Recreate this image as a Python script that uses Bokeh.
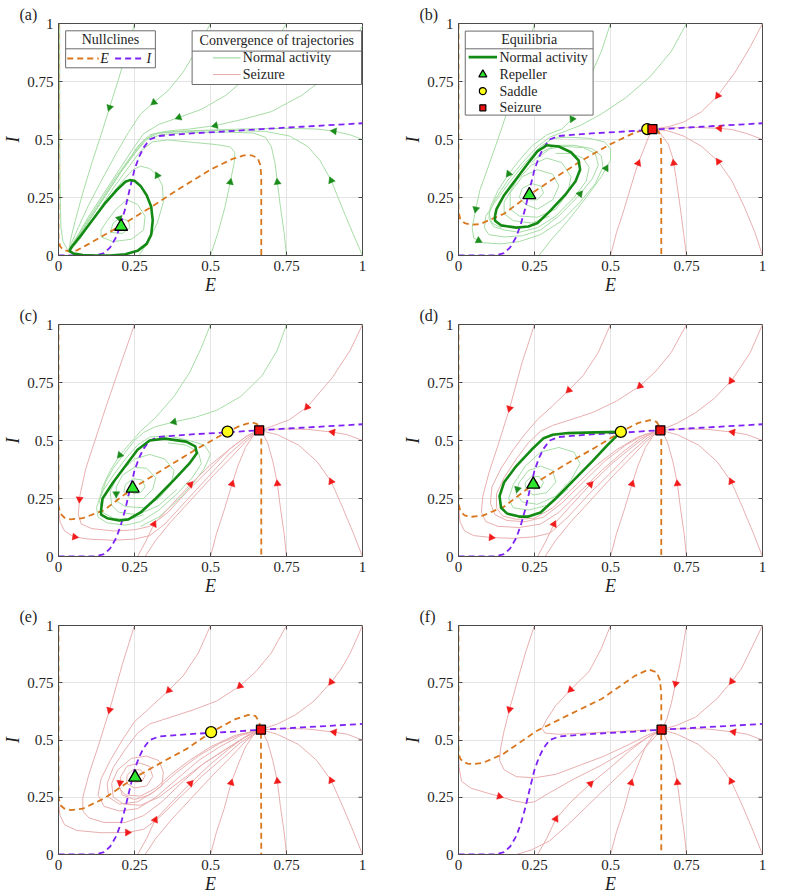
import math
from bokeh.plotting import figure
from bokeh.layouts import column, row
from bokeh.models import FixedTicker, Range1d, Title
from bokeh.embed import file_html
from bokeh.resources import INLINE
from bokeh.core.properties import value

# ---------------------------------------------------------------- data
TICKS = [0, 0.25, 0.5, 0.75, 1]
TICK_LABELS = ["0", "0.25", "0.5", "0.75", "1"]
PANEL_TAGS = ["(a)", "(b)", "(c)", "(d)", "(e)", "(f)"]

# I-nullcline (same in every panel)
I_NULL_E = [0, 0.12, 0.15, 0.17, 0.19, 0.205, 0.22, 0.235, 0.25, 0.265, 0.28, 0.30, 0.33, 0.42, 0.58, 0.667, 0.8, 1.0]
I_NULL_I = [0, 0, 0.01, 0.035, 0.08, 0.135, 0.205, 0.29, 0.37, 0.425, 0.465, 0.5, 0.515, 0.525, 0.537, 0.545, 0.555, 0.57]

# E-nullclines, one per panel
E_NULL_A_E = [0, 0, 0.005, 0.015, 0.035, 0.06, 0.1, 0.2, 0.3, 0.4, 0.5, 0.57, 0.61, 0.635, 0.655, 0.664, 0.667, 0.667]
E_NULL_A_I = [1, 0.07, 0.04, 0.025, 0.018, 0.022, 0.05, 0.125, 0.205, 0.29, 0.37, 0.415, 0.432, 0.432, 0.42, 0.39, 0.34, 0]
E_NULL_B_E = [0, 0, 0.006, 0.02, 0.04, 0.07, 0.15, 0.233, 0.3, 0.4, 0.5, 0.58, 0.621, 0.645, 0.658, 0.665, 0.667, 0.667]
E_NULL_B_I = [1, 0.19, 0.155, 0.14, 0.133, 0.135, 0.18, 0.261, 0.32, 0.405, 0.48, 0.53, 0.545, 0.548, 0.535, 0.51, 0.47, 0]
E_NULL_C_E = [0, 0, 0.006, 0.02, 0.04, 0.08, 0.15, 0.244, 0.35, 0.45, 0.556, 0.6, 0.635, 0.652, 0.663, 0.667, 0.667]
E_NULL_C_I = [1, 0.22, 0.185, 0.167, 0.16, 0.165, 0.2, 0.294, 0.38, 0.46, 0.538, 0.565, 0.578, 0.572, 0.55, 0.51, 0]
E_NULL_D_E = [0, 0, 0.006, 0.02, 0.04, 0.08, 0.15, 0.246, 0.35, 0.45, 0.534, 0.59, 0.63, 0.652, 0.663, 0.667, 0.667]
E_NULL_D_I = [1, 0.23, 0.195, 0.177, 0.171, 0.176, 0.215, 0.311, 0.395, 0.47, 0.537, 0.575, 0.588, 0.58, 0.555, 0.515, 0]
E_NULL_E_E = [0, 0, 0.006, 0.02, 0.04, 0.08, 0.15, 0.252, 0.35, 0.42, 0.502, 0.58, 0.625, 0.648, 0.66, 0.666, 0.667]
E_NULL_E_I = [1, 0.25, 0.215, 0.2, 0.194, 0.2, 0.245, 0.337, 0.41, 0.46, 0.534, 0.59, 0.61, 0.605, 0.58, 0.54, 0]
E_NULL_F_E = [0, 0, 0.005, 0.015, 0.03, 0.048, 0.08, 0.146, 0.255, 0.363, 0.472, 0.58, 0.625, 0.652, 0.663, 0.667, 0.667]
E_NULL_F_I = [1, 0.45, 0.42, 0.405, 0.397, 0.395, 0.4, 0.438, 0.538, 0.61, 0.68, 0.78, 0.808, 0.796, 0.76, 0.7, 0]

# normal-activity cycles (panels a-d)
CYCLE_A_E = [0.035, 0.05, 0.08, 0.12, 0.17, 0.22, 0.26, 0.29, 0.305, 0.31, 0.305, 0.29, 0.27, 0.25, 0.235, 0.22, 0.19, 0.15, 0.11, 0.07, 0.045, 0.035]
CYCLE_A_I = [0.02, 0.008, 0.002, 0.0, 0.0, 0.005, 0.02, 0.05, 0.09, 0.15, 0.21, 0.26, 0.3, 0.322, 0.325, 0.318, 0.28, 0.22, 0.15, 0.08, 0.04, 0.02]
CYCLE_B_E = [0.12, 0.125, 0.15, 0.19, 0.23, 0.26, 0.29, 0.33, 0.37, 0.395, 0.40, 0.385, 0.35, 0.30, 0.26, 0.23, 0.19, 0.14, 0.12, 0.12]
CYCLE_B_I = [0.17, 0.2, 0.26, 0.33, 0.40, 0.45, 0.475, 0.47, 0.445, 0.41, 0.37, 0.32, 0.26, 0.19, 0.14, 0.125, 0.12, 0.13, 0.15, 0.17]
CYCLE_C_E = [0.14, 0.145, 0.18, 0.22, 0.26, 0.3, 0.35, 0.42, 0.45, 0.455, 0.43, 0.38, 0.32, 0.27, 0.23, 0.2, 0.16, 0.14, 0.14]
CYCLE_C_I = [0.2, 0.25, 0.32, 0.39, 0.46, 0.5, 0.508, 0.495, 0.475, 0.445, 0.4, 0.33, 0.25, 0.19, 0.16, 0.155, 0.165, 0.18, 0.2]
CYCLE_D_E = [0.534, 0.45, 0.36, 0.31, 0.28, 0.24, 0.19, 0.15, 0.135, 0.14, 0.16, 0.2, 0.23, 0.27, 0.32, 0.38, 0.44, 0.49, 0.534]
CYCLE_D_I = [0.537, 0.535, 0.532, 0.525, 0.51, 0.46, 0.39, 0.32, 0.26, 0.21, 0.185, 0.172, 0.172, 0.19, 0.25, 0.33, 0.41, 0.48, 0.537]

# equilibria per panel (None where absent)
REPELLER_E = [0.206, 0.233, 0.244, 0.246, 0.252, None]
REPELLER_I = [0.125, 0.261, 0.294, 0.311, 0.337, None]
SADDLE_E = [None, 0.621, 0.556, 0.534, 0.502, None]
SADDLE_I = [None, 0.545, 0.538, 0.537, 0.534, None]
SEIZURE_E = [None, 0.638, 0.66, 0.664, 0.666, 0.668]
SEIZURE_I = [None, 0.545, 0.544, 0.544, 0.545, 0.545]

# trajectories (E, I) that settle on normal activity
GREEN_A = [
    [(0.25, 1.0), (0.225, 0.88), (0.195, 0.75), (0.168, 0.638), (0.14, 0.52), (0.11, 0.4), (0.08, 0.27), (0.055, 0.15), (0.04, 0.07), (0.035, 0.03)],
    [(0.5, 1.0), (0.46, 0.9), (0.41, 0.79), (0.36, 0.71), (0.314, 0.66), (0.27, 0.61), (0.23, 0.53), (0.19, 0.44), (0.14, 0.32), (0.1, 0.22), (0.065, 0.12), (0.045, 0.06), (0.035, 0.03)],
    [(0.75, 1.0), (0.7, 0.89), (0.63, 0.78), (0.55, 0.69), (0.47, 0.63), (0.396, 0.595), (0.33, 0.565), (0.28, 0.525), (0.245, 0.46), (0.2, 0.37), (0.15, 0.27), (0.1, 0.17), (0.065, 0.09), (0.04, 0.035)],
    [(1.0, 0.99), (0.95, 0.88), (0.88, 0.77), (0.8, 0.69), (0.7, 0.62), (0.6, 0.585), (0.516, 0.56), (0.43, 0.545), (0.35, 0.535), (0.3, 0.52), (0.26, 0.47), (0.22, 0.39), (0.17, 0.29), (0.12, 0.19), (0.075, 0.1), (0.045, 0.04)],
    [(1.0, 0.5), (0.96, 0.52), (0.907, 0.536), (0.85, 0.545), (0.75, 0.548), (0.6, 0.545), (0.48, 0.54), (0.38, 0.535), (0.315, 0.525), (0.275, 0.49), (0.235, 0.42), (0.19, 0.34), (0.14, 0.24), (0.09, 0.14), (0.055, 0.07), (0.038, 0.03)],
    [(1.0, 0.0), (0.97, 0.09), (0.935, 0.2), (0.897, 0.323), (0.86, 0.41), (0.82, 0.47), (0.76, 0.515), (0.68, 0.535), (0.55, 0.54), (0.42, 0.535), (0.33, 0.528), (0.285, 0.5), (0.245, 0.43), (0.2, 0.35), (0.15, 0.25), (0.1, 0.15), (0.06, 0.075), (0.038, 0.03)],
    [(0.75, 0.0), (0.742, 0.1), (0.73, 0.21), (0.72, 0.316), (0.712, 0.4), (0.7, 0.47), (0.68, 0.51), (0.64, 0.528), (0.55, 0.532), (0.43, 0.53), (0.34, 0.522), (0.29, 0.5), (0.25, 0.44), (0.205, 0.36), (0.155, 0.26), (0.105, 0.16), (0.065, 0.08), (0.04, 0.032)],
    [(0.5, 0.0), (0.525, 0.1), (0.548, 0.21), (0.565, 0.316), (0.578, 0.4), (0.58, 0.445), (0.565, 0.468), (0.52, 0.478), (0.44, 0.488), (0.36, 0.498), (0.31, 0.49), (0.27, 0.45), (0.23, 0.38), (0.18, 0.29), (0.13, 0.19), (0.085, 0.11), (0.05, 0.05), (0.037, 0.025)],
    [(0.265, 0.0), (0.295, 0.06), (0.325, 0.14), (0.345, 0.23), (0.342, 0.3), (0.325, 0.345), (0.3, 0.375), (0.27, 0.385), (0.245, 0.37), (0.21, 0.32), (0.16, 0.24), (0.11, 0.15), (0.07, 0.07), (0.045, 0.03), (0.04, 0.02)],
    [(0.004, 1.0), (0.004, 0.6), (0.005, 0.3), (0.008, 0.12), (0.015, 0.06), (0.03, 0.025)],
    [(0.14, 0.08), (0.18, 0.06), (0.24, 0.07), (0.28, 0.11), (0.285, 0.17), (0.26, 0.22), (0.225, 0.24), (0.19, 0.2), (0.16, 0.15), (0.14, 0.11), (0.14, 0.08)],
    [(0.17, 0.1), (0.21, 0.095), (0.235, 0.12), (0.23, 0.15), (0.2, 0.16), (0.18, 0.14), (0.17, 0.1)],
]
GREEN_A_ARROWS = [(0, 0.168, 0.638), (1, 0.314, 0.66), (2, 0.396, 0.595), (3, 0.516, 0.56), (4, 0.907, 0.538),
                  (5, 0.897, 0.323), (6, 0.72, 0.316), (7, 0.565, 0.316), (8, 0.325, 0.345), (11, 0.2, 0.16)]

GREEN_B = [
    [(0.25, 1.0), (0.22, 0.86), (0.18, 0.7), (0.14, 0.54), (0.1, 0.39), (0.07, 0.28), (0.057, 0.2), (0.045, 0.12), (0.05, 0.075), (0.08, 0.055), (0.14, 0.05), (0.2, 0.06), (0.27, 0.09), (0.34, 0.15), (0.4, 0.23), (0.45, 0.31), (0.475, 0.38), (0.47, 0.43), (0.44, 0.46), (0.38, 0.475), (0.32, 0.475), (0.28, 0.45), (0.24, 0.4)],
    [(0.5, 1.0), (0.47, 0.88), (0.43, 0.76), (0.4, 0.66), (0.374, 0.588), (0.34, 0.545), (0.29, 0.52), (0.24, 0.47), (0.2, 0.41), (0.165, 0.352), (0.13, 0.28), (0.105, 0.21), (0.1, 0.16), (0.115, 0.125), (0.15, 0.11), (0.2, 0.1), (0.26, 0.12), (0.32, 0.17), (0.38, 0.25), (0.42, 0.32), (0.43, 0.38), (0.41, 0.42), (0.37, 0.44), (0.32, 0.44)],
    [(0.75, 1.0), (0.7, 0.88), (0.63, 0.77), (0.55, 0.68), (0.47, 0.61), (0.4, 0.56), (0.34, 0.53), (0.3, 0.51), (0.26, 0.47), (0.21, 0.4), (0.16, 0.32), (0.12, 0.24), (0.1, 0.18), (0.11, 0.14), (0.14, 0.12)],
    [(0.265, 0.0), (0.3, 0.06), (0.36, 0.15), (0.42, 0.25), (0.47, 0.34), (0.5, 0.41), (0.5, 0.46), (0.48, 0.49), (0.43, 0.505), (0.36, 0.51), (0.31, 0.505), (0.27, 0.47), (0.22, 0.4), (0.17, 0.32), (0.12, 0.23), (0.09, 0.17), (0.085, 0.12), (0.1, 0.09), (0.15, 0.08), (0.21, 0.085), (0.27, 0.11), (0.33, 0.17), (0.39, 0.25), (0.44, 0.33), (0.46, 0.39), (0.45, 0.44), (0.41, 0.465), (0.35, 0.47), (0.3, 0.46), (0.26, 0.42)],
    [(0.233, 0.24), (0.26, 0.24), (0.28, 0.27), (0.27, 0.3), (0.24, 0.31), (0.21, 0.29), (0.2, 0.25), (0.22, 0.22), (0.26, 0.2), (0.31, 0.24), (0.33, 0.3), (0.31, 0.35), (0.26, 0.37), (0.21, 0.34), (0.17, 0.27), (0.17, 0.2), (0.2, 0.17), (0.26, 0.165), (0.32, 0.2), (0.36, 0.27), (0.37, 0.34), (0.34, 0.4), (0.29, 0.42), (0.24, 0.39), (0.19, 0.32), (0.15, 0.23), (0.15, 0.18), (0.18, 0.15), (0.24, 0.14), (0.3, 0.17)],
]
GREEN_B_ARROWS = [(0, 0.057, 0.2), (0, 0.065, 0.062), (1, 0.374, 0.588), (1, 0.165, 0.352), (3, 0.48, 0.38), (3, 0.4, 0.265)]

GREEN_C = [
    [(0.5, 1.0), (0.47, 0.9), (0.43, 0.79), (0.38, 0.69), (0.32, 0.6), (0.27, 0.54), (0.23, 0.48), (0.202, 0.437), (0.17, 0.37), (0.145, 0.3), (0.135, 0.24), (0.145, 0.19), (0.18, 0.165), (0.23, 0.16), (0.28, 0.18)],
    [(0.75, 1.0), (0.72, 0.89), (0.67, 0.78), (0.6, 0.69), (0.52, 0.63), (0.45, 0.6), (0.38, 0.58), (0.32, 0.56), (0.28, 0.535), (0.25, 0.5), (0.22, 0.45), (0.18, 0.38), (0.155, 0.32), (0.14, 0.26)],
    [(0.27, 0.13), (0.33, 0.17), (0.39, 0.24), (0.44, 0.31), (0.48, 0.38), (0.5, 0.44), (0.48, 0.48), (0.43, 0.5), (0.36, 0.52), (0.3, 0.515), (0.26, 0.48), (0.22, 0.42), (0.18, 0.35), (0.14, 0.27), (0.125, 0.21), (0.13, 0.17), (0.16, 0.145), (0.22, 0.135), (0.27, 0.15), (0.33, 0.2), (0.39, 0.27), (0.44, 0.34), (0.47, 0.4), (0.46, 0.45), (0.42, 0.48), (0.36, 0.49)],
    [(0.244, 0.27), (0.27, 0.275), (0.285, 0.3), (0.275, 0.33), (0.245, 0.335), (0.22, 0.31), (0.215, 0.28), (0.235, 0.25), (0.28, 0.25), (0.31, 0.29), (0.32, 0.34), (0.29, 0.38), (0.25, 0.385), (0.21, 0.35), (0.19, 0.3), (0.19, 0.24), (0.22, 0.215), (0.28, 0.21), (0.33, 0.25), (0.37, 0.31), (0.38, 0.37), (0.35, 0.42), (0.3, 0.44), (0.25, 0.42), (0.2, 0.36), (0.17, 0.28), (0.175, 0.22), (0.2, 0.19), (0.26, 0.18), (0.33, 0.22), (0.39, 0.29)],
]
GREEN_C_ARROWS = [(1, 0.38, 0.58), (0, 0.202, 0.437), (3, 0.19, 0.27)]

GREEN_D = [
    [(0.246, 0.29), (0.27, 0.295), (0.28, 0.32), (0.265, 0.345), (0.24, 0.345), (0.22, 0.32), (0.22, 0.29), (0.245, 0.265), (0.29, 0.275), (0.32, 0.32), (0.31, 0.37), (0.27, 0.39), (0.23, 0.37), (0.2, 0.32), (0.19, 0.27), (0.21, 0.235), (0.26, 0.225), (0.32, 0.26), (0.37, 0.33), (0.4, 0.4), (0.38, 0.45), (0.33, 0.47), (0.27, 0.45), (0.22, 0.39), (0.18, 0.31), (0.165, 0.25), (0.18, 0.21), (0.23, 0.2), (0.29, 0.22), (0.36, 0.29)],
]
GREEN_D_ARROWS = [(0, 0.195, 0.29)]

# trajectories (E, I) that end in the seizure state
PINK_B = [
    [(1.0, 1.0), (0.96, 0.9), (0.91, 0.79), (0.853, 0.689), (0.8, 0.62), (0.74, 0.575), (0.69, 0.555), (0.64, 0.545)],
    [(1.0, 0.5), (0.95, 0.525), (0.9, 0.543), (0.859, 0.548), (0.78, 0.552), (0.7, 0.55), (0.64, 0.545)],
    [(1.0, 0.0), (0.975, 0.1), (0.94, 0.21), (0.9, 0.32), (0.855, 0.405), (0.8, 0.47), (0.74, 0.515), (0.69, 0.537), (0.64, 0.545)],
    [(0.75, 0.0), (0.74, 0.1), (0.728, 0.22), (0.715, 0.34), (0.705, 0.42), (0.69, 0.48), (0.665, 0.525), (0.64, 0.545)],
    [(0.5, 0.0), (0.52, 0.1), (0.545, 0.2), (0.57, 0.31), (0.589, 0.39), (0.61, 0.46), (0.628, 0.52), (0.64, 0.545)],
]
PINK_B_ARROWS = [(0, 0.853, 0.689), (1, 0.859, 0.548), (2, 0.855, 0.405), (3, 0.712, 0.399), (4, 0.589, 0.399)]

PINK_C = [
    [(0.25, 1.0), (0.21, 0.85), (0.16, 0.66), (0.12, 0.5), (0.09, 0.38), (0.07, 0.26), (0.065, 0.18), (0.075, 0.14), (0.11, 0.12), (0.18, 0.11), (0.25, 0.115), (0.3, 0.13), (0.36, 0.19), (0.43, 0.29), (0.5, 0.38), (0.56, 0.46), (0.62, 0.52), (0.66, 0.544)],
    [(0.0, 0.21), (0.005, 0.15), (0.02, 0.11), (0.05, 0.085), (0.1, 0.075), (0.18, 0.07), (0.25, 0.075), (0.3, 0.09), (0.35, 0.14), (0.42, 0.24), (0.49, 0.34), (0.56, 0.44), (0.62, 0.51), (0.66, 0.544)],
    [(0.26, 0.0), (0.285, 0.06), (0.314, 0.139), (0.37, 0.22), (0.434, 0.311), (0.5, 0.395), (0.56, 0.46), (0.62, 0.52), (0.66, 0.544)],
    [(0.285, 0.0), (0.32, 0.07), (0.37, 0.15), (0.44, 0.25), (0.51, 0.35), (0.57, 0.43), (0.62, 0.5), (0.66, 0.544)],
    [(0.5, 0.0), (0.52, 0.1), (0.545, 0.2), (0.568, 0.3), (0.59, 0.39), (0.615, 0.47), (0.64, 0.52), (0.66, 0.544)],
    [(0.75, 0.0), (0.742, 0.1), (0.73, 0.21), (0.72, 0.314), (0.705, 0.41), (0.688, 0.49), (0.67, 0.535), (0.66, 0.544)],
    [(1.0, 0.0), (0.97, 0.1), (0.935, 0.21), (0.897, 0.323), (0.85, 0.41), (0.79, 0.48), (0.72, 0.525), (0.66, 0.544)],
    [(1.0, 0.5), (0.95, 0.525), (0.902, 0.536), (0.82, 0.548), (0.74, 0.55), (0.66, 0.544)],
    [(1.0, 1.0), (0.96, 0.89), (0.9, 0.77), (0.818, 0.644), (0.76, 0.59), (0.7, 0.56), (0.66, 0.544)],
]
PINK_C_ARROWS = [(0, 0.07, 0.247), (1, 0.053, 0.082), (2, 0.314, 0.139), (2, 0.434, 0.311), (4, 0.568, 0.314),
                 (5, 0.72, 0.314), (6, 0.897, 0.323), (7, 0.902, 0.536), (8, 0.818, 0.644)]

PINK_D = [
    [(0.25, 1.0), (0.21, 0.84), (0.168, 0.638), (0.13, 0.48), (0.1, 0.36), (0.08, 0.26), (0.075, 0.19), (0.09, 0.15), (0.13, 0.13), (0.2, 0.125), (0.27, 0.14), (0.33, 0.19), (0.4, 0.28), (0.47, 0.37), (0.54, 0.45), (0.6, 0.51), (0.664, 0.544)],
    [(0.0, 0.22), (0.005, 0.15), (0.02, 0.11), (0.05, 0.09), (0.108, 0.082), (0.18, 0.078), (0.25, 0.085), (0.3, 0.1), (0.36, 0.17), (0.43, 0.27), (0.5, 0.36), (0.56, 0.44), (0.62, 0.51), (0.664, 0.544)],
    [(0.5, 1.0), (0.46, 0.88), (0.41, 0.78), (0.363, 0.717), (0.31, 0.65), (0.26, 0.59), (0.22, 0.53), (0.18, 0.46), (0.14, 0.38), (0.11, 0.3), (0.105, 0.23), (0.12, 0.18), (0.16, 0.155), (0.22, 0.15), (0.28, 0.17), (0.34, 0.23), (0.41, 0.32), (0.48, 0.41), (0.55, 0.48), (0.61, 0.525), (0.664, 0.544)],
    [(0.75, 1.0), (0.7, 0.88), (0.65, 0.8), (0.597, 0.735), (0.52, 0.67), (0.44, 0.62), (0.37, 0.59), (0.31, 0.565), (0.27, 0.54), (0.23, 0.49), (0.19, 0.42), (0.15, 0.34), (0.125, 0.27), (0.125, 0.21), (0.145, 0.175), (0.19, 0.16), (0.25, 0.165), (0.31, 0.21), (0.38, 0.3), (0.45, 0.39), (0.52, 0.46), (0.59, 0.515), (0.664, 0.544)],
    [(1.0, 1.0), (0.96, 0.88), (0.93, 0.82), (0.897, 0.757), (0.84, 0.68), (0.78, 0.62), (0.72, 0.575), (0.664, 0.544)],
    [(1.0, 0.5), (0.95, 0.525), (0.902, 0.536), (0.82, 0.548), (0.74, 0.55), (0.664, 0.544)],
    [(1.0, 0.0), (0.97, 0.1), (0.935, 0.21), (0.897, 0.323), (0.85, 0.41), (0.79, 0.48), (0.72, 0.525), (0.664, 0.544)],
    [(0.75, 0.0), (0.742, 0.1), (0.73, 0.21), (0.72, 0.314), (0.705, 0.41), (0.688, 0.49), (0.672, 0.535), (0.664, 0.544)],
    [(0.5, 0.0), (0.52, 0.1), (0.545, 0.2), (0.568, 0.3), (0.59, 0.39), (0.615, 0.47), (0.64, 0.52), (0.664, 0.544)],
    [(0.26, 0.0), (0.285, 0.06), (0.314, 0.139), (0.37, 0.22), (0.434, 0.311), (0.5, 0.395), (0.56, 0.46), (0.62, 0.52), (0.664, 0.544)],
    [(0.285, 0.0), (0.32, 0.07), (0.37, 0.15), (0.44, 0.25), (0.51, 0.35), (0.57, 0.43), (0.62, 0.5), (0.664, 0.544)],
]
PINK_D_ARROWS = [(0, 0.168, 0.638), (1, 0.108, 0.082), (2, 0.363, 0.717), (3, 0.597, 0.735), (4, 0.897, 0.757),
                 (5, 0.902, 0.536), (6, 0.897, 0.323), (7, 0.72, 0.314), (8, 0.568, 0.314), (9, 0.314, 0.139), (9, 0.434, 0.311)]

PINK_E = [
    [(0.25, 1.0), (0.21, 0.83), (0.168, 0.631), (0.13, 0.47), (0.1, 0.35), (0.08, 0.25), (0.08, 0.19), (0.1, 0.16), (0.15, 0.14), (0.22, 0.14), (0.28, 0.17), (0.34, 0.23), (0.41, 0.32), (0.48, 0.4), (0.55, 0.46), (0.61, 0.51), (0.666, 0.545)],
    [(0.0, 0.23), (0.005, 0.17), (0.02, 0.13), (0.06, 0.105), (0.14, 0.095), (0.227, 0.096), (0.28, 0.11), (0.33, 0.16), (0.4, 0.25), (0.47, 0.34), (0.54, 0.42), (0.6, 0.49), (0.666, 0.545)],
    [(0.5, 1.0), (0.46, 0.88), (0.41, 0.78), (0.363, 0.717), (0.3, 0.64), (0.25, 0.58), (0.21, 0.5), (0.17, 0.41), (0.14, 0.33), (0.13, 0.26), (0.15, 0.21), (0.2, 0.19), (0.26, 0.2), (0.32, 0.25), (0.39, 0.33), (0.46, 0.41), (0.53, 0.47), (0.6, 0.52), (0.666, 0.545)],
    [(0.75, 1.0), (0.7, 0.88), (0.65, 0.8), (0.597, 0.736), (0.52, 0.67), (0.44, 0.63), (0.37, 0.6), (0.3, 0.57), (0.26, 0.53), (0.22, 0.46), (0.18, 0.38), (0.16, 0.31), (0.165, 0.25), (0.2, 0.22), (0.26, 0.23), (0.32, 0.28), (0.39, 0.36), (0.46, 0.43), (0.53, 0.485), (0.6, 0.525), (0.666, 0.545)],
    [(1.0, 1.0), (0.96, 0.88), (0.93, 0.81), (0.897, 0.753), (0.84, 0.67), (0.78, 0.61), (0.72, 0.57), (0.666, 0.545)],
    [(1.0, 0.5), (0.95, 0.525), (0.907, 0.534), (0.82, 0.548), (0.74, 0.55), (0.666, 0.545)],
    [(1.0, 0.0), (0.97, 0.1), (0.935, 0.21), (0.897, 0.323), (0.85, 0.41), (0.79, 0.48), (0.72, 0.525), (0.666, 0.545)],
    [(0.75, 0.0), (0.742, 0.1), (0.73, 0.21), (0.72, 0.32), (0.705, 0.41), (0.688, 0.49), (0.672, 0.535), (0.666, 0.545)],
    [(0.5, 0.0), (0.52, 0.1), (0.545, 0.2), (0.568, 0.313), (0.59, 0.39), (0.615, 0.47), (0.64, 0.52), (0.666, 0.545)],
    [(0.26, 0.0), (0.29, 0.07), (0.318, 0.151), (0.37, 0.225), (0.434, 0.311), (0.5, 0.395), (0.56, 0.46), (0.62, 0.52), (0.666, 0.545)],
    [(0.285, 0.0), (0.32, 0.07), (0.37, 0.15), (0.44, 0.25), (0.51, 0.35), (0.57, 0.43), (0.62, 0.5), (0.666, 0.545)],
    [(0.252, 0.315), (0.275, 0.32), (0.285, 0.345), (0.27, 0.37), (0.245, 0.37), (0.225, 0.345), (0.225, 0.31), (0.25, 0.29), (0.29, 0.3), (0.31, 0.34), (0.3, 0.385), (0.265, 0.4), (0.225, 0.385), (0.205, 0.34), (0.2, 0.29), (0.22, 0.26), (0.27, 0.255), (0.32, 0.29), (0.37, 0.35), (0.43, 0.41), (0.5, 0.47), (0.58, 0.52), (0.666, 0.545)],
    [(0.2, 0.3), (0.21, 0.26), (0.25, 0.24), (0.3, 0.26), (0.34, 0.3), (0.345, 0.36), (0.33, 0.41), (0.29, 0.43), (0.24, 0.42), (0.195, 0.37), (0.175, 0.31), (0.18, 0.25), (0.215, 0.22), (0.27, 0.215), (0.33, 0.25), (0.4, 0.32), (0.47, 0.39), (0.54, 0.45), (0.61, 0.51), (0.666, 0.545)],
]
PINK_E_ARROWS = [(0, 0.168, 0.631), (1, 0.227, 0.096), (2, 0.363, 0.717), (3, 0.597, 0.736), (4, 0.897, 0.753),
                 (5, 0.907, 0.534), (6, 0.897, 0.323), (7, 0.72, 0.32), (8, 0.568, 0.313), (9, 0.318, 0.151),
                 (9, 0.434, 0.311), (11, 0.203, 0.313)]

PINK_F = [
    [(0.25, 1.0), (0.22, 0.88), (0.19, 0.74), (0.168, 0.634), (0.15, 0.54), (0.138, 0.46), (0.135, 0.41), (0.15, 0.37), (0.19, 0.34), (0.25, 0.335), (0.32, 0.35), (0.4, 0.39), (0.48, 0.43), (0.56, 0.48), (0.62, 0.52), (0.668, 0.545)],
    [(0.5, 1.0), (0.47, 0.9), (0.43, 0.8), (0.369, 0.72), (0.32, 0.65), (0.29, 0.59), (0.275, 0.55), (0.285, 0.53), (0.33, 0.525), (0.42, 0.53), (0.52, 0.537), (0.6, 0.542), (0.668, 0.545)],
    [(0.75, 1.0), (0.74, 0.92), (0.728, 0.83), (0.714, 0.746), (0.7, 0.66), (0.685, 0.59), (0.668, 0.545)],
    [(1.0, 1.0), (0.96, 0.89), (0.93, 0.81), (0.899, 0.756), (0.85, 0.68), (0.78, 0.6), (0.72, 0.565), (0.668, 0.545)],
    [(1.0, 0.5), (0.95, 0.525), (0.905, 0.535), (0.82, 0.548), (0.74, 0.55), (0.668, 0.545)],
    [(1.0, 0.0), (0.97, 0.1), (0.935, 0.21), (0.897, 0.32), (0.85, 0.41), (0.79, 0.48), (0.72, 0.525), (0.668, 0.545)],
    [(0.75, 0.0), (0.742, 0.1), (0.73, 0.21), (0.72, 0.314), (0.705, 0.41), (0.688, 0.49), (0.672, 0.535), (0.668, 0.545)],
    [(0.5, 0.0), (0.52, 0.1), (0.545, 0.2), (0.568, 0.313), (0.59, 0.39), (0.615, 0.47), (0.64, 0.52), (0.668, 0.545)],
    [(0.0, 0.45), (0.002, 0.38), (0.01, 0.32), (0.04, 0.29), (0.09, 0.27), (0.135, 0.254), (0.18, 0.235), (0.22, 0.225), (0.25, 0.23), (0.3, 0.27), (0.38, 0.33), (0.47, 0.39), (0.56, 0.46), (0.62, 0.51), (0.668, 0.545)],
    [(0.26, 0.0), (0.29, 0.07), (0.32, 0.155), (0.37, 0.23), (0.434, 0.309), (0.5, 0.38), (0.56, 0.45), (0.62, 0.51), (0.668, 0.545)],
    [(0.19, 0.0), (0.24, 0.02), (0.3, 0.06), (0.36, 0.13), (0.43, 0.22), (0.5, 0.31), (0.57, 0.4), (0.63, 0.49), (0.668, 0.545)],
]
PINK_F_ARROWS = [(0, 0.168, 0.634), (1, 0.369, 0.72), (2, 0.714, 0.746), (3, 0.899, 0.756), (4, 0.905, 0.535),
                 (5, 0.897, 0.32), (6, 0.72, 0.314), (7, 0.568, 0.313), (8, 0.135, 0.254), (9, 0.32, 0.155), (9, 0.434, 0.309)]

# ---------------------------------------------------------------- style
FONT = "Liberation Serif"
FRAME_W, FRAME_H = 306, 232
AXIS_COLOR = "#4a4a4a"
GRID_COLOR = "#e4e4e4"
TEXT_COLOR = "#1e1e1e"
ORANGE = "#d9771e"
PURPLE = "#7f22f5"
GREEN_THICK = "#138a13"
GREEN_THIN = "#a6dda6"
PINK_THIN = "#e9afaf"
GREEN_ARROW = "#1b8c1b"
RED_ARROW = "#f01a1a"
LEGEND_EDGE = "#6b6b6b"
DASH = "6 4"
TICK_LEN = 4

E_NULLS = [(E_NULL_A_E, E_NULL_A_I), (E_NULL_B_E, E_NULL_B_I), (E_NULL_C_E, E_NULL_C_I),
           (E_NULL_D_E, E_NULL_D_I), (E_NULL_E_E, E_NULL_E_I), (E_NULL_F_E, E_NULL_F_I)]
CYCLES = [(CYCLE_A_E, CYCLE_A_I), (CYCLE_B_E, CYCLE_B_I), (CYCLE_C_E, CYCLE_C_I), (CYCLE_D_E, CYCLE_D_I), None, None]
GREENS = [(GREEN_A, GREEN_A_ARROWS), (GREEN_B, GREEN_B_ARROWS), (GREEN_C, GREEN_C_ARROWS), (GREEN_D, GREEN_D_ARROWS), ([], []), ([], [])]
PINKS = [([], []), (PINK_B, PINK_B_ARROWS), (PINK_C, PINK_C_ARROWS), (PINK_D, PINK_D_ARROWS), (PINK_E, PINK_E_ARROWS), (PINK_F, PINK_F_ARROWS)]


def arrow_on(traj, e, i):
    """Project a point onto a trajectory; return position and marker angle."""
    best = None
    for (x0, y0), (x1, y1) in zip(traj[:-1], traj[1:]):
        ax, ay, bx, by = x0 * FRAME_W, y0 * FRAME_H, x1 * FRAME_W, y1 * FRAME_H
        px, py = e * FRAME_W, i * FRAME_H
        vx, vy = bx - ax, by - ay
        l2 = vx * vx + vy * vy or 1e-9
        t = max(0.0, min(1.0, ((px - ax) * vx + (py - ay) * vy) / l2))
        qx, qy = ax + t * vx, ay + t * vy
        d = (qx - px) ** 2 + (qy - py) ** 2
        if best is None or d < best[0]:
            best = (d, qx / FRAME_W, qy / FRAME_H, math.atan2(vy, vx) - math.pi / 2)
    return best[1], best[2], best[3]


def fx(px):
    return px / FRAME_W


def fy(py):
    return 1 - py / FRAME_H


def style_axis(ax, label):
    ax.ticker = FixedTicker(ticks=TICKS)
    ax.major_label_overrides = dict(zip(TICKS, TICK_LABELS))
    ax.major_tick_in = TICK_LEN
    ax.major_tick_out = 0
    ax.minor_tick_line_color = None
    ax.axis_line_color = AXIS_COLOR
    ax.major_tick_line_color = AXIS_COLOR
    ax.major_label_text_font = FONT
    ax.major_label_text_font_size = "15px"
    ax.major_label_text_color = TEXT_COLOR
    ax.major_label_standoff = 5
    ax.axis_label = label
    ax.axis_label_text_font = FONT
    ax.axis_label_text_font_style = "italic"
    ax.axis_label_text_font_size = "18px"
    ax.axis_label_text_color = TEXT_COLOR
    ax.axis_label_standoff = 1


def legend_box(p, x0, y0, x1, y1, ydiv, title):
    p.quad(left=[fx(x0)], right=[fx(x1)], top=[fy(y0)], bottom=[fy(y1)],
           fill_color="white", line_color=LEGEND_EDGE, line_width=1)
    p.segment(x0=[fx(x0)], x1=[fx(x1)], y0=[fy(ydiv)], y1=[fy(ydiv)], line_color=LEGEND_EDGE, line_width=1)
    legend_text(p, (x0 + x1) / 2, (y0 + ydiv) / 2, title, align="center")


def legend_text(p, x, y, text, align="left", style="normal"):
    p.text(x=[fx(x)], y=[fy(y)], text=[text], text_align=align, text_baseline="middle",
           text_font=value(FONT), text_font_size=value("14px"), text_color=TEXT_COLOR,
           text_font_style=style)


def make_panel(k):
    rk, ck = divmod(k, 2)
    top, left, right = 23, 56, 38
    bottom = 46 if rk < 2 else 39
    p = figure(width=left + FRAME_W + right, height=top + FRAME_H + bottom,
               x_range=Range1d(0, 1), y_range=Range1d(0, 1),
               output_backend="svg", toolbar_location=None,
               min_border_left=left, min_border_right=right,
               min_border_top=top, min_border_bottom=bottom,
               background_fill_color="white", border_fill_color="white",
               outline_line_color=AXIS_COLOR, outline_line_width=1)
    p.title = Title(text=PANEL_TAGS[k], align="left", offset=-39, standoff=1,
                    text_font=FONT, text_font_size="16px", text_font_style="normal",
                    text_color=TEXT_COLOR)
    style_axis(p.xaxis[0], "E")
    style_axis(p.yaxis[0], "I")
    p.grid.grid_line_color = GRID_COLOR
    p.grid.grid_line_width = 1

    # thin trajectories
    for trajs, color in ((GREENS[k][0], GREEN_THIN), (PINKS[k][0], PINK_THIN)):
        if trajs:
            p.multi_line(xs=[[q[0] for q in t] for t in trajs], ys=[[q[1] for q in t] for t in trajs],
                         line_color=color, line_width=1)

    # nullclines
    ee, ei = E_NULLS[k]
    p.line(ee, ei, line_color=ORANGE, line_width=1.8, line_dash=DASH)
    p.line(I_NULL_E, I_NULL_I, line_color=PURPLE, line_width=1.8, line_dash=DASH)

    # normal-activity cycle
    if CYCLES[k] is not None:
        p.line(CYCLES[k][0], CYCLES[k][1], line_color=GREEN_THICK, line_width=2.6)

    # direction arrows
    for (trajs, arrows), color in ((GREENS[k], GREEN_ARROW), (PINKS[k], RED_ARROW)):
        if arrows:
            pts = [arrow_on(trajs[j], e, i) for j, e, i in arrows]
            p.scatter([a[0] for a in pts], [a[1] for a in pts], angle=[a[2] for a in pts],
                      marker="triangle", size=7, fill_color=color, line_color=color, line_width=0.5)

    # equilibria
    if REPELLER_E[k] is not None:
        p.scatter([REPELLER_E[k]], [REPELLER_I[k]], marker="triangle", size=13,
                  fill_color="#2ee62e", line_color="black", line_width=1.3)
    if SADDLE_E[k] is not None:
        p.scatter([SADDLE_E[k]], [SADDLE_I[k]], marker="circle", size=11,
                  fill_color="#ffff1a", line_color="black", line_width=1.3)
    if SEIZURE_E[k] is not None:
        p.scatter([SEIZURE_E[k]], [SEIZURE_I[k]], marker="square", size=9,
                  fill_color="#ee1111", line_color="black", line_width=1.3)

    # inward ticks on the top and right edges of the box
    inner = TICKS[1:-1]
    p.segment(x0=inner, x1=inner, y0=[1] * len(inner), y1=[1 - TICK_LEN / FRAME_H] * len(inner),
              line_color=AXIS_COLOR, line_width=1)
    p.segment(x0=[1] * len(inner), x1=[1 - TICK_LEN / FRAME_W] * len(inner), y0=inner, y1=inner,
              line_color=AXIS_COLOR, line_width=1)

    # legends
    if k == 0:
        legend_box(p, 7.2, 7.3, 97.5, 44.3, 25.3, "Nullclines")
        p.line([fx(8.8), fx(40.5)], [fy(35), fy(35)], line_color=ORANGE, line_width=1.8, line_dash=DASH)
        legend_text(p, 42, 35, "E", style="italic")
        p.line([fx(57), fx(86.5)], [fy(35), fy(35)], line_color=PURPLE, line_width=1.8, line_dash=DASH)
        legend_text(p, 88.5, 35, "I", style="italic")
        legend_box(p, 134.5, 7.3, 305, 61, 27.6, "Convergence of trajectories")
        p.line([fx(155.5), fx(183.2)], [fy(34.3), fy(34.3)], line_color=GREEN_THIN, line_width=1.2)
        legend_text(p, 185.5, 34.3, "Normal activity")
        p.line([fx(155.5), fx(183.2)], [fy(51), fy(51)], line_color=PINK_THIN, line_width=1.2)
        legend_text(p, 185.5, 51, "Seizure")
    if k == 1:
        legend_box(p, 6.8, 7.6, 135.5, 91.6, 25.3, "Equilibria")
        p.line([fx(10.2), fx(38.8)], [fy(33.6), fy(33.6)], line_color=GREEN_THICK, line_width=2.6)
        legend_text(p, 41.2, 33.6, "Normal activity")
        p.scatter([fx(24.5)], [fy(51)], marker="triangle", size=8, fill_color="#2ee62e", line_color="black", line_width=1.2)
        legend_text(p, 41.2, 51, "Repeller")
        p.scatter([fx(24.5)], [fy(67.6)], marker="circle", size=7, fill_color="#ffff1a", line_color="black", line_width=1.2)
        legend_text(p, 41.2, 67.6, "Saddle")
        p.scatter([fx(24.5)], [fy(84.3)], marker="square", size=6, fill_color="#ee1111", line_color="black", line_width=1.2)
        legend_text(p, 41.2, 84.3, "Seizure")
    return p


panels = [make_panel(k) for k in range(6)]
layout = column(row(panels[0], panels[1]), row(panels[2], panels[3]), row(panels[4], panels[5]))
open("out.html", "w").write(file_html(layout, INLINE))
